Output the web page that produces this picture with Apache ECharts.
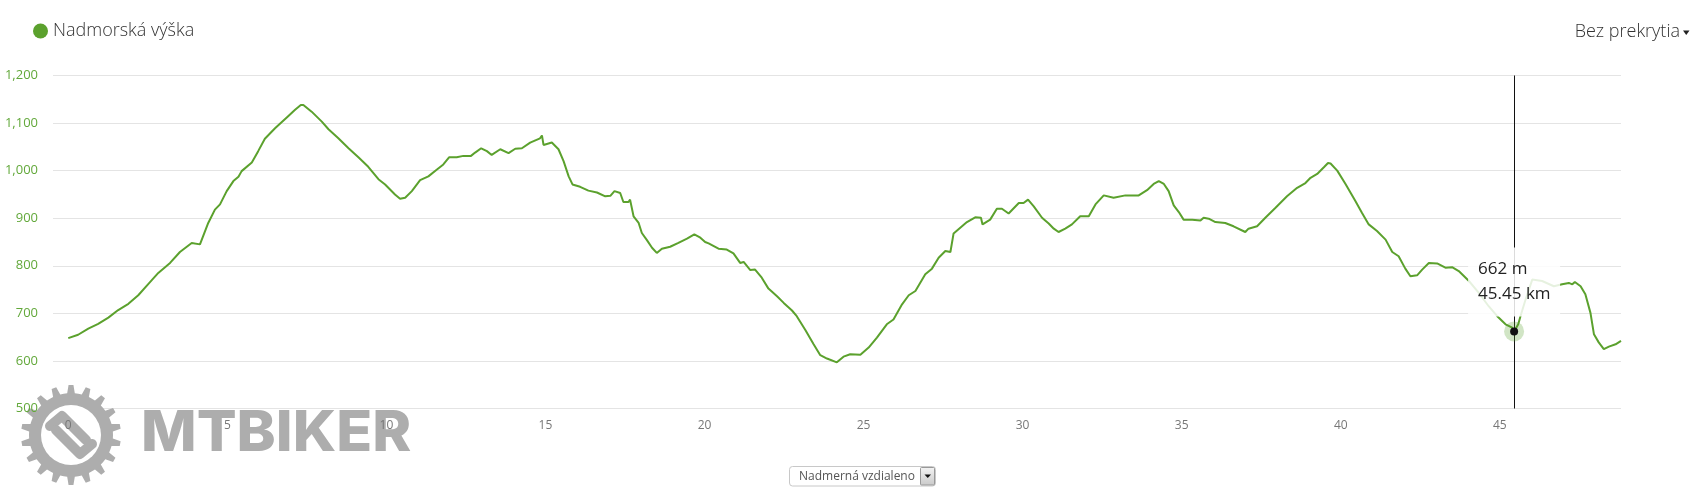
<!DOCTYPE html>
<html>
<head>
<meta charset="utf-8">
<script src="https://cdn.jsdelivr.net/npm/echarts@6/dist/echarts.min.js"></script>
<style>
html,body{margin:0;padding:0;background:#fff;}
#chart{width:1701px;height:501px;}
</style>
</head>
<body>
<div id="chart"></div>
<script>
// ---- data ----
const seriesName = 'Nadmorská výška';
const distanceKm = [
  0.00,0.31,0.63,0.94,1.26,1.57,1.89,2.20,2.52,2.83,3.20,3.51,3.88,4.14,4.40,4.61,4.77,4.98,5.19,5.35,
  5.45,5.77,5.97,6.18,6.50,6.92,7.13,7.31,7.39,7.65,7.97,8.18,8.49,8.81,9.12,9.43,9.75,9.96,10.27,10.43,
  10.59,10.80,11.06,11.32,11.58,11.79,11.97,12.21,12.42,12.66,12.79,12.98,13.16,13.31,13.58,13.84,14.05,14.26,14.52,14.83,
  14.89,14.94,15.20,15.41,15.57,15.73,15.85,16.09,16.35,16.62,16.88,17.04,17.17,17.35,17.45,17.61,17.66,17.77,17.93,18.03,
  18.19,18.35,18.50,18.66,18.92,19.18,19.45,19.68,19.87,20.02,20.13,20.44,20.70,20.91,21.12,21.23,21.44,21.59,21.80,22.01,
  22.28,22.49,22.75,22.90,23.17,23.43,23.64,23.85,24.16,24.37,24.58,24.90,25.16,25.42,25.73,25.94,26.21,26.42,26.63,26.94,
  27.15,27.36,27.57,27.73,27.83,28.04,28.25,28.51,28.69,28.74,28.98,29.19,29.35,29.56,29.88,30.03,30.17,30.35,30.61,30.82,
  30.98,31.13,31.34,31.55,31.81,32.08,32.29,32.55,32.86,33.23,33.65,33.91,34.12,34.28,34.44,34.59,34.75,34.91,35.06,35.33,
  35.59,35.69,35.85,36.06,36.37,36.63,37.00,37.10,37.37,37.63,37.95,38.31,38.63,38.89,39.05,39.26,39.47,39.60,39.68,39.89,
  40.15,40.46,40.67,40.88,41.14,41.41,41.62,41.82,42.03,42.19,42.40,42.56,42.77,43.03,43.29,43.50,43.71,44.03,44.34,44.65,
  44.92,45.18,45.39,45.45,45.58,45.65,45.81,46.02,46.33,46.70,46.96,47.17,47.28,47.36,47.54,47.69,47.85,47.96,48.11,48.27,
  48.43,48.64,48.81
];
const elevationM = [
  648,655,668,678,691,707,720,738,762,785,806,829,848,845,890,918,929,957,978,987,
  999,1017,1041,1067,1089,1115,1128,1138,1138,1124,1103,1087,1068,1047,1028,1008,982,971,950,941,
  943,957,980,988,1002,1013,1028,1028,1031,1031,1038,1047,1041,1033,1045,1037,1046,1047,1059,1068,
  1074,1054,1059,1045,1020,988,971,966,958,954,946,947,957,953,934,934,939,904,890,869,
  854,838,827,836,840,848,857,866,859,850,847,836,834,826,806,808,791,792,775,752,
  736,722,706,694,665,635,612,605,597,609,614,613,628,649,677,687,719,738,747,782,
  794,817,831,829,868,880,892,902,901,887,897,920,920,910,932,932,939,925,901,889,
  878,871,878,887,904,904,929,948,943,948,948,959,972,978,972,957,927,913,897,897,
  895,901,899,892,890,883,871,878,883,901,922,946,964,974,985,993,1007,1016,1015,1000,
  972,936,911,887,873,855,829,820,794,778,780,792,806,805,796,797,789,768,743,715,
  694,677,670,662,677,694,729,771,768,757,761,764,761,766,757,740,701,656,639,625,
  630,635,642
];
const xTickLabels = [0, 5, 10, 15, 20, 25, 30, 35, 40, 45];
const yTickLabels = [500, 600, 700, 800, 900, 1000, 1100, 1200];
const hoverKm = 45.45;
const hoverElev = 662;
const hoverTexts = ['662 m', '45.45 km'];
const topRightText = 'Bez prekrytia';
const selectText = 'Nadmerná vzdialeno';
const watermarkText = 'MTBIKER';

// ---- chart ----
const GREEN = '#5ba12d';
const points = distanceKm.map((d, i) => [d, elevationM[i]]);
const chart = echarts.init(document.getElementById('chart'), null, {renderer: 'canvas'});

function gearPoints(rOut, rIn, teeth) {
  const pts = [];
  const step = 2 * Math.PI / teeth;
  for (let i = 0; i < teeth; i++) {
    const a = i * step - Math.PI / 2;
    [[a - step * 0.5, rIn], [a - step * 0.26, rIn], [a - step * 0.14, rOut], [a + step * 0.14, rOut], [a + step * 0.26, rIn]]
      .forEach(([t, r]) => pts.push([r * Math.cos(t), r * Math.sin(t)]));
  }
  return pts;
}

const WM = '#adadad';
const baseGraphics = [
  // watermark gear
  {
    type: 'group', x: 71, y: 435, z: -10, silent: true,
    children: [
      {type: 'polygon', shape: {points: gearPoints(50, 42, 18)}, style: {fill: WM}},
      {type: 'circle', shape: {cx: 0, cy: 0, r: 30}, style: {fill: '#fff'}},
      {type: 'polyline', shape: {points: [[-21, -9], [-9, -19], [15, 5]]}, style: {stroke: WM, lineWidth: 10, lineCap: 'round', lineJoin: 'round', fill: null}},
      {type: 'polyline', shape: {points: [[21, 9], [9, 19], [-15, -5]]}, style: {stroke: WM, lineWidth: 10, lineCap: 'round', lineJoin: 'round', fill: null}}
    ]
  },
  {
    type: 'text', x: 141, y: 434, z: -10, silent: true, scaleX: 1.035,
    style: {text: watermarkText, x: 0, y: 0, font: '800 57px Inter', fill: WM, textAlign: 'left', textVerticalAlign: 'middle'}
  },
  // top right dropdown label
  {
    type: 'text', x: 1680, y: 32,
    style: {text: topRightText, font: '300 18px "Open Sans"', fill: '#333', textAlign: 'right', textVerticalAlign: 'middle'}
  },
  {type: 'polygon', shape: {points: [[1683, 30.5], [1689.5, 30.5], [1686.25, 35]]}, style: {fill: '#222'}},
  // bottom select box
  {type: 'rect', shape: {x: 789.5, y: 466.5, width: 146, height: 19.5, r: 3}, style: {fill: '#fff', stroke: '#c8c8c8', lineWidth: 1}},
  {type: 'text', x: 799, y: 476.5, style: {text: selectText, font: '12px "Open Sans"', fill: '#555', textAlign: 'left', textVerticalAlign: 'middle'}},
  {
    type: 'rect', shape: {x: 920.5, y: 467.5, width: 14, height: 17.5, r: 1},
    style: {
      fill: new echarts.graphic.LinearGradient(0, 0, 0, 1, [{offset: 0, color: '#f4f4f4'}, {offset: 1, color: '#c9c9c9'}]),
      stroke: '#999', lineWidth: 1
    }
  },
  {type: 'polygon', shape: {points: [[924.5, 474.5], [931, 474.5], [927.75, 478]]}, style: {fill: '#111'}}
];

const option = {
  animation: false,
  backgroundColor: '#fff',
  textStyle: {fontFamily: '"Open Sans", sans-serif'},
  legend: {
    data: [seriesName],
    left: 33, top: 22, padding: 0,
    icon: 'circle', itemWidth: 15, itemHeight: 15, itemGap: 10,
    textStyle: {fontSize: 18, fontWeight: 300, color: '#333', fontFamily: '"Open Sans"', padding: [0, 0, 0, 0]}
  },
  grid: {left: 53, right: 80, top: 75.5, bottom: 92.5, containLabel: false},
  xAxis: {
    type: 'value', min: -0.48, max: distanceKm[distanceKm.length - 1],
    axisLine: {show: false}, axisTick: {show: false}, splitLine: {show: false},
    axisLabel: {customValues: xTickLabels, color: '#777', fontSize: 12, margin: 11, fontFamily: '"Open Sans"'}
  },
  yAxis: {
    type: 'value', min: yTickLabels[0], max: yTickLabels[yTickLabels.length - 1], interval: 100,
    axisLine: {show: false}, axisTick: {show: false},
    splitLine: {show: true, lineStyle: {color: '#e4e4e4', width: 1}},
    axisLabel: {
      color: '#62a83a', fontSize: 13, margin: 15, fontFamily: '"Open Sans"',
      formatter: v => v.toLocaleString('en-US')
    }
  },
  series: [{
    name: seriesName, type: 'line', data: points, showSymbol: false, symbol: 'none',
    lineStyle: {color: GREEN, width: 2}, itemStyle: {color: GREEN},
    markLine: {
      silent: true, symbol: ['none', 'none'], label: {show: false},
      lineStyle: {color: '#111', width: 1, type: 'solid'},
      data: [{xAxis: hoverKm}]
    },
    markPoint: {
      silent: true, label: {show: false},
      data: [
        {coord: [hoverKm, hoverElev], symbol: 'circle', symbolSize: 20, itemStyle: {color: 'rgba(91,161,45,0.28)'}},
        {coord: [hoverKm, hoverElev], symbol: 'circle', symbolSize: 8, itemStyle: {color: '#111'}}
      ]
    }
  }],
  graphic: baseGraphics
};
chart.setOption(option);

// tooltip box anchored at the hovered data point
const p = chart.convertToPixel({xAxisIndex: 0, yAxisIndex: 0}, [hoverKm, hoverElev]);
const tipGraphics = [
  {type: 'rect', z: 100, shape: {x: p[0] - 46, y: p[1] - 84, width: 92, height: 69}, style: {fill: 'rgba(255,255,255,0.85)'}},
  {type: 'text', z: 101, x: p[0] - 36, y: p[1] - 62, style: {text: hoverTexts[0], font: '17px "Open Sans"', fill: '#222', textAlign: 'left', textVerticalAlign: 'middle'}},
  {type: 'text', z: 101, x: p[0] - 36, y: p[1] - 37, style: {text: hoverTexts[1], font: '17px "Open Sans"', fill: '#222', textAlign: 'left', textVerticalAlign: 'middle'}}
];
chart.setOption({graphic: baseGraphics.concat(tipGraphics)}, {replaceMerge: ['graphic']});
</script>
</body>
</html>
